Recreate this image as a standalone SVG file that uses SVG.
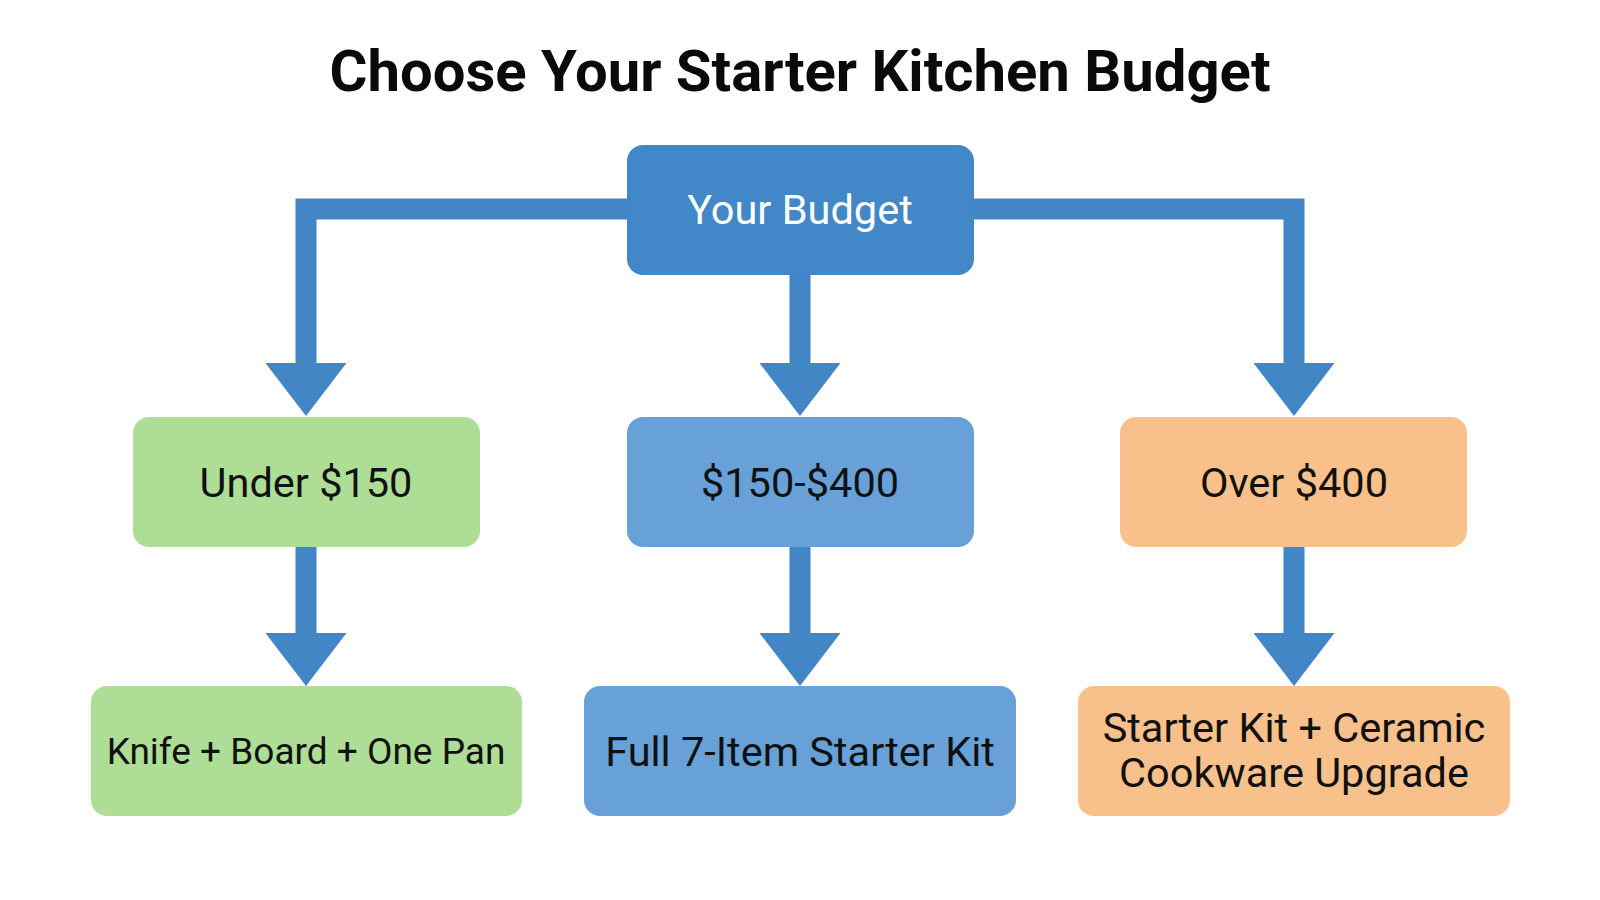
<svg xmlns="http://www.w3.org/2000/svg" width="1600" height="900" viewBox="0 0 1600 900">
  <defs>
    <marker id="arrow" viewBox="0 -40.5 53 81" refX="0" refY="0" markerWidth="53" markerHeight="81" markerUnits="userSpaceOnUse" orient="auto">
      <path d="M0,-40.5 L53,0 L0,40.5 Z" fill="#4386c6"/>
    </marker>
  </defs>
  <style>
    .title { font-family: Roboto, "Liberation Sans", sans-serif; font-weight: 700; font-size: 58px; fill: #0a0a0a; text-anchor: middle; }
    .lbl { font-family: Roboto, "Liberation Sans", sans-serif; font-size: 41.5px; fill: #111111; text-anchor: middle; }
    .lbl-w { fill: #ffffff; }
    .conn { fill: none; stroke: #4386c6; stroke-width: 21; stroke-linejoin: miter; marker-end: url(#arrow); }
    .box { rx: 16; ry: 16; }
    .root { fill: #4287c7; }
    .mid { fill: #68a1d7; }
    .green { fill: #aedd96; }
    .orange { fill: #f8c08a; }
  </style>
  <rect width="1600" height="900" fill="#ffffff"/>
  <text class="title" x="800" y="91">Choose Your Starter Kitchen Budget</text>

  <g id="connectors">
    <path class="conn" d="M630,209 L306,209 L306,363"/>
    <path class="conn" d="M800,270 L800,363"/>
    <path class="conn" d="M970,209 L1294,209 L1294,363"/>
    <path class="conn" d="M306,543 L306,633"/>
    <path class="conn" d="M800,543 L800,633"/>
    <path class="conn" d="M1294,543 L1294,633"/>
  </g>

  <g id="node-budget">
    <rect class="box root" x="627" y="145" width="347" height="130"/>
    <text class="lbl lbl-w" x="800" y="224">Your Budget</text>
  </g>
  <g id="node-under150">
    <rect class="box green" x="133" y="417" width="347" height="130"/>
    <text class="lbl" x="306" y="497">Under $150</text>
  </g>
  <g id="node-150-400">
    <rect class="box mid" x="627" y="417" width="347" height="130"/>
    <text class="lbl" x="800" y="497">$150-$400</text>
  </g>
  <g id="node-over400">
    <rect class="box orange" x="1120" y="417" width="347" height="130"/>
    <text class="lbl" x="1294" y="497">Over $400</text>
  </g>
  <g id="node-knife">
    <rect class="box green" x="91" y="686" width="431" height="130"/>
    <text class="lbl" x="306" y="764" style="font-size:37px">Knife + Board + One Pan</text>
  </g>
  <g id="node-full">
    <rect class="box mid" x="584" y="686" width="432" height="130"/>
    <text class="lbl" x="800" y="766">Full 7-Item Starter Kit</text>
  </g>
  <g id="node-ceramic">
    <rect class="box orange" x="1078" y="686" width="432" height="130"/>
    <text class="lbl" x="1294" y="742">Starter Kit + Ceramic</text>
    <text class="lbl" x="1294" y="787">Cookware Upgrade</text>
  </g>
</svg>
